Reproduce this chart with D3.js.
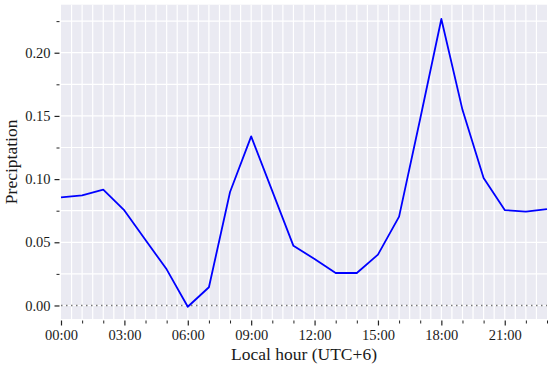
<!DOCTYPE html>
<html>
<head>
<meta charset="utf-8">
<script src="https://cdn.jsdelivr.net/npm/d3@7"></script>
<style>
  body { margin: 0; background: #fff; }
  text { font-family: "Liberation Serif", "DejaVu Serif", serif; fill: #1a1a1a; }
</style>
</head>
<body>
<script>
// hourly mean precipitation, local time
var hours = d3.range(0, 24);
var precip = [0.0856, 0.0872, 0.0916, 0.0752, 0.0518, 0.0286, -0.001, 0.0144,
              0.0898, 0.1338, 0.0905, 0.0472, 0.0368, 0.0257, 0.0257, 0.0402,
              0.0703, 0.1478, 0.2267, 0.1548, 0.1008, 0.0755, 0.0742, 0.0763];
var xMajor = [0, 3, 6, 9, 12, 15, 18, 21];
var xLabels = ['00:00', '03:00', '06:00', '09:00', '12:00', '15:00', '18:00', '21:00'];
var yMajor = [0, 0.05, 0.10, 0.15, 0.20];

var width = 550, height = 369;
var margin = { top: 4.7, right: 3, bottom: 50, left: 61 };

var svg = d3.select('body').append('svg')
  .attr('width', width)
  .attr('height', height);

var x = d3.scaleLinear().domain([0, 23]).range([margin.left, width - margin.right]);
var y = d3.scaleLinear().domain([-0.0107, 0.238]).range([height - margin.bottom, margin.top]);

svg.append('rect')
  .attr('x', x(0)).attr('y', y(0.238))
  .attr('width', x(23) - x(0)).attr('height', y(-0.0107) - y(0.238))
  .attr('fill', '#eaeaf2');

// grid
var g = svg.append('g');
g.selectAll('line.vg')
  .data(d3.range(0.5, 23, 0.5))
  .enter().append('line')
  .attr('x1', function(d) { return x(d) }).attr('x2', function(d) { return x(d) })
  .attr('y1', y(0.238)).attr('y2', y(-0.0107))
  .attr('stroke', '#fff').attr('stroke-width', 1.2);
g.selectAll('line.hg')
  .data(d3.range(0, 0.2376, 0.025))
  .enter().append('line')
  .attr('y1', function(d) { return y(d) }).attr('y2', function(d) { return y(d) })
  .attr('x1', x(0)).attr('x2', x(23))
  .attr('stroke', '#fff').attr('stroke-width', 1.2);

// zero line
svg.append('line')
  .attr('x1', x(0)).attr('x2', x(23))
  .attr('y1', y(0)).attr('y2', y(0))
  .attr('stroke', '#777').attr('stroke-width', 1.5)
  .attr('stroke-dasharray', '1.5,3.5');

// x axis
var xAxis = d3.axisBottom(x).tickValues(xMajor).tickSize(5).tickPadding(4)
  .tickFormat(function(d, i) { return xLabels[i] });
var xa = svg.append('g').attr('transform', 'translate(0,' + (y(-0.0107) + 1.5) + ')').call(xAxis);
xa.select('.domain').remove();
xa.selectAll('.tick line').attr('stroke', '#222').attr('stroke-width', 1.2);
xa.selectAll('.tick text').style('font-size', '14.5px').style('font-family', '"Liberation Serif", serif').attr('fill', '#1a1a1a');
var xMinor = d3.axisBottom(x).tickValues(hours.filter(function(h) { return h % 3 }))
  .tickSize(3).tickFormat('');
var xm = svg.append('g').attr('transform', 'translate(0,' + (y(-0.0107) + 1.5) + ')').call(xMinor);
xm.select('.domain').remove();
xm.selectAll('.tick line').attr('stroke', '#222').attr('stroke-width', 1);

// y axis
var yAxis = d3.axisLeft(y).tickValues(yMajor).tickSize(5).tickPadding(4).tickFormat(d3.format('.2f'));
var ya = svg.append('g').attr('transform', 'translate(' + (x(0) - 1.5) + ',0)').call(yAxis);
ya.select('.domain').remove();
ya.selectAll('.tick line').attr('stroke', '#222').attr('stroke-width', 1.2);
ya.selectAll('.tick text').style('font-size', '14.5px').style('font-family', '"Liberation Serif", serif').attr('fill', '#1a1a1a');
var yMinor = d3.axisLeft(y).tickValues([0.025, 0.075, 0.125, 0.175, 0.225]).tickSize(3).tickFormat('');
var ym = svg.append('g').attr('transform', 'translate(' + (x(0) - 1.5) + ',0)').call(yMinor);
ym.select('.domain').remove();
ym.selectAll('.tick line').attr('stroke', '#222').attr('stroke-width', 1);

// line
var line = d3.line()
  .x(function(d, i) { return x(hours[i]) })
  .y(function(d) { return y(d) });
svg.append('path')
  .datum(precip)
  .attr('d', line)
  .attr('fill', 'none')
  .attr('stroke', '#0000ff')
  .attr('stroke-width', 1.8)
  .attr('stroke-linejoin', 'round');

// labels
svg.append('text')
  .attr('x', (x(0) + x(23)) / 2)
  .attr('y', 360)
  .attr('text-anchor', 'middle')
  .style('font-size', '17.5px')
  .text('Local hour (UTC+6)');
svg.append('text')
  .attr('transform', 'translate(17,' + ((y(0.238) + y(-0.0107)) / 2) + ')rotate(-90)')
  .attr('text-anchor', 'middle')
  .style('font-size', '17.5px')
  .text('Preciptation');
</script>
</body>
</html>
